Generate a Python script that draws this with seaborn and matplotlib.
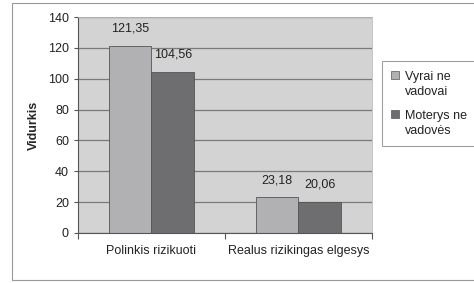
import pandas as pd
import matplotlib.pyplot as plt
import seaborn as sns
from matplotlib.patches import Rectangle

categories = ['Polinkis rizikuoti', 'Realus rizikingas elgesys']
groups = ['Vyrai ne\nvadovai', 'Moterys ne\nvadovės']
vyrai = [121.35, 23.18]
moterys = [104.56, 20.06]

df = pd.DataFrame({
    'Kategorija': categories * 2,
    'Grupe': [groups[0]] * 2 + [groups[1]] * 2,
    'Vidurkis': vyrai + moterys,
})

sns.set_style('white')
plt.rcParams['font.family'] = ['Liberation Sans', 'DejaVu Sans']

fig = plt.figure(figsize=(4.74, 2.83), dpi=100)
ax = fig.add_axes([0.1646, 0.1767, 0.62, 0.763])

sns.barplot(data=df, x='Kategorija', y='Vidurkis', hue='Grupe',
            palette=['#b1b1b4', '#6d6d71'], width=0.58, gap=0,
            edgecolor='#555555', linewidth=0.6, ax=ax, legend=False)

ax.set_facecolor('#d3d3d3')
ax.set_ylim(0, 140)
ax.set_xlim(-0.5, 1.5)
ax.set_yticks(range(0, 141, 20))
ax.yaxis.grid(True, color='#7a7a7a', linewidth=0.9)
ax.set_axisbelow(True)
ax.tick_params(axis='both', labelsize=9, colors='#222222')
ax.tick_params(axis='y', length=3, width=0.8, color='#555555', left=True)
ax.tick_params(axis='x', length=0, pad=9)
ax.set_xticks([-0.5, 0.5, 1.5], minor=True)
ax.tick_params(axis='x', which='minor', length=4, width=0.8, color='#555555', bottom=True)
ax.set_xlabel('')
ax.set_ylabel('Vidurkis', fontsize=9, fontweight='bold', labelpad=6)
for side in ['left', 'bottom']:
    ax.spines[side].set_color('#555555')
    ax.spines[side].set_linewidth(0.8)
for side in ['top', 'right']:
    ax.spines[side].set_color('#bbbbbb')
    ax.spines[side].set_linewidth(0.6)

for cont in ax.containers:
    ax.bar_label(cont, labels=[f'{v:.2f}'.replace('.', ',') for v in cont.datavalues],
                 padding=8, fontsize=9, color='#222222')

handles = [Rectangle((0, 0), 1, 1, facecolor=c, edgecolor='#555555', linewidth=0.5)
           for c in ['#b1b1b4', '#6d6d71']]
leg = fig.legend(handles, groups, loc='upper left', bbox_to_anchor=(0.806, 0.783),
                 fontsize=9, frameon=True, fancybox=False, handlelength=0.6,
                 handleheight=0.6, handletextpad=0.5, labelspacing=0.95,
                 borderpad=0.75, borderaxespad=0)
leg.get_frame().set_edgecolor('#888888')
leg.get_frame().set_linewidth(0.8)
for t in leg.get_texts():
    t.set_color('#222222')
    t.set_linespacing(1.35)
# put the colour square next to the first line of each label
for col in leg._legend_handle_box.get_children():
    for row in col.get_children():
        row.align = 'top'

fig.patches.append(Rectangle((0.025, 0.011), 0.985, 0.978, transform=fig.transFigure,
                             fill=False, edgecolor='#999999', linewidth=0.8))

fig.savefig('out.png', dpi=100)
